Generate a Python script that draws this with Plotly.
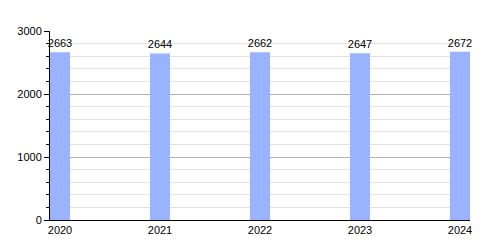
import plotly.graph_objects as go

years = [2020, 2021, 2022, 2023, 2024]
values = [2663, 2644, 2662, 2647, 2672]
y_ticks = [0, 1000, 2000, 3000]

fig = go.Figure()
fig.add_trace(go.Bar(
    x=years, y=values, width=0.2,
    marker=dict(color="#99b3ff", line=dict(width=0)),
    text=[str(v) for v in values], textposition="outside",
    constraintext="none",
    textfont=dict(family="Liberation Sans, Arial", size=11, color="black"),
    cliponaxis=False,
))

fig.update_layout(
    width=500, height=250,
    margin=dict(l=50, r=30, t=31, b=30),
    paper_bgcolor="white", plot_bgcolor="white",
    showlegend=False,
    font=dict(family="Liberation Sans, Arial", size=11, color="black"),
    xaxis=dict(
        range=[2019.9, 2024.1], tickvals=years, ticktext=[str(y) for y in years],
        showgrid=False, showline=True, linecolor="black", linewidth=1,
        ticks="", tickfont=dict(size=11, color="black"), zeroline=False,
    ),
    yaxis=dict(
        range=[0, 3000], tickvals=y_ticks, ticktext=[str(t) for t in y_ticks],
        showgrid=True, gridcolor="#b0b0b0", gridwidth=1,
        showline=True, linecolor="black", linewidth=1,
        ticks="outside", ticklen=5, tickcolor="black",
        tickfont=dict(size=11, color="black"), zeroline=False,
        minor=dict(dtick=200, showgrid=True, gridcolor="#e3e3e3", ticks="outside",
                   ticklen=3, tickcolor="black"),
    ),
)
fig.write_html("out.html")
